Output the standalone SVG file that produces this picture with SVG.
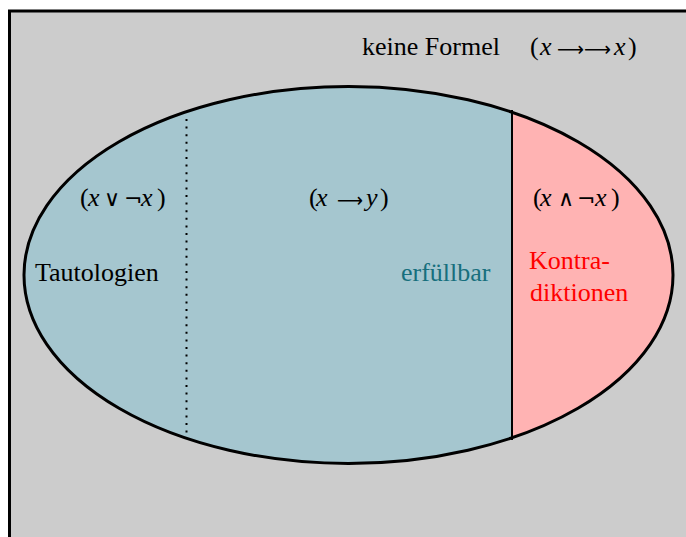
<svg xmlns="http://www.w3.org/2000/svg" width="686" height="537" viewBox="0 0 686 537">
<style>
text{font-family:"Liberation Serif","DejaVu Serif",serif;font-size:26px;fill:#000}
.i{font-style:italic}
.s{font-family:"DejaVu Sans","Liberation Sans",sans-serif;font-size:22px;font-style:normal}
.a{font-family:"DejaVu Sans",sans-serif;font-size:20px}
.teal{fill:#176f7d}
.red{fill:#ff0000}
</style>
<defs>
<clipPath id="ec"><ellipse cx="348.5" cy="275" rx="324.5" ry="188.5"/></clipPath>
</defs>
<rect width="686" height="537" fill="#ffffff"/>
<g id="universe">
<rect x="9.5" y="11" width="720" height="600" fill="#cccccc" stroke="#000" stroke-width="3"/>
<text x="362" y="55">keine Formel</text>
<text y="55"><tspan x="530">(</tspan><tspan x="540" class="i">x</tspan><tspan x="614" class="i">x</tspan><tspan x="628">)</tspan></text>
<text x="557" y="56" class="a" textLength="27" lengthAdjust="spacingAndGlyphs">⟶</text>
<text x="584" y="56" class="a" textLength="27" lengthAdjust="spacingAndGlyphs">⟶</text>
</g>
<g id="erfuellbar">
<ellipse cx="348.5" cy="275" rx="324.5" ry="188.5" fill="#a5c6cf"/>
</g>
<g id="kontradiktionen">
<rect x="512" y="60" width="200" height="420" fill="#ffb3b3" clip-path="url(#ec)"/>
</g>
<g id="connectors">
<line x1="186.5" y1="119" x2="186.5" y2="436" stroke="#000" stroke-width="2" stroke-dasharray="2 5.6"/>
<line x1="512" y1="110" x2="512" y2="440" stroke="#000" stroke-width="2"/>
<ellipse cx="348.5" cy="275" rx="324.5" ry="188.5" fill="none" stroke="#000" stroke-width="3"/>
</g>
<g id="labels">
<text y="206"><tspan x="80">(</tspan><tspan x="88" class="i">x</tspan><tspan x="104" class="s">∨</tspan><tspan x="124" class="s">¬</tspan><tspan x="141" class="i">x</tspan><tspan x="157">)</tspan></text>
<text x="35" y="281">Tautologien</text>
<text y="206"><tspan x="309">(</tspan><tspan x="316" class="i">x</tspan><tspan x="366" class="i">y</tspan><tspan x="380">)</tspan></text>
<text x="337" y="207" class="a" textLength="26" lengthAdjust="spacingAndGlyphs">⟶</text>
<text x="401" y="281" class="teal">erfüllbar</text>
<text y="206"><tspan x="533">(</tspan><tspan x="540" class="i">x</tspan><tspan x="558" class="s">∧</tspan><tspan x="577" class="s">¬</tspan><tspan x="595" class="i">x</tspan><tspan x="611">)</tspan></text>
<text x="529" y="269" class="red">Kontra-</text>
<text x="530" y="301" class="red">diktionen</text>
</g>
</svg>
